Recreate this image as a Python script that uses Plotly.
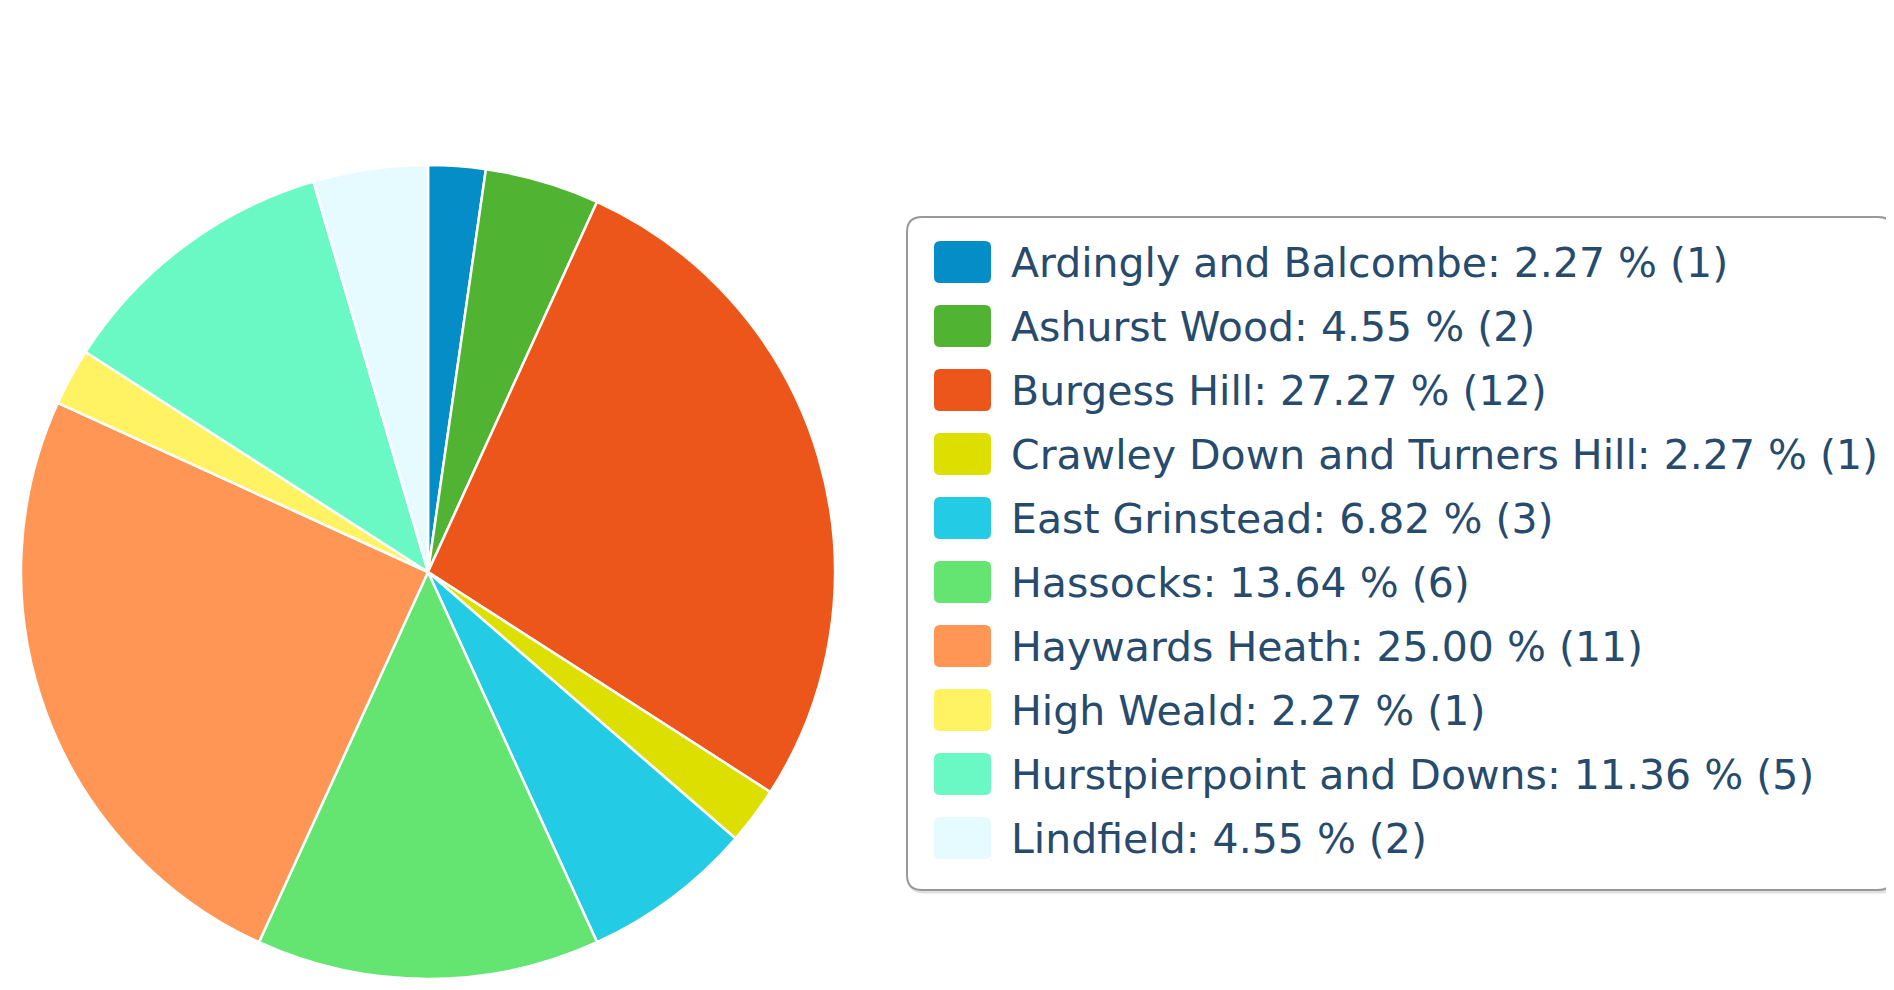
import plotly.graph_objects as go

W, H = 1894, 990
OFF = 8  # the page body adds an 8px margin

districts = [
    "Ardingly and Balcombe", "Ashurst Wood", "Burgess Hill",
    "Crawley Down and Turners Hill", "East Grinstead", "Hassocks",
    "Haywards Heath", "High Weald", "Hurstpierpoint and Downs", "Lindfield",
]
counts = [1, 2, 12, 1, 3, 6, 11, 1, 5, 2]
colors = [
    "#058dc7", "#50b432", "#ed561b", "#dddf00", "#24cbe5",
    "#64e572", "#ff9655", "#fff263", "#6af9c4", "#e6fbff",
]

total = sum(counts)
pct = [100 * c / total for c in counts]


def px_x(x):
    return (x - OFF) / W


def px_y(y):
    return 1 - (y - OFF) / H


def rounded_rect(x0, y0, x1, y1, r):
    # path in paper coords, corners given in pixels (top-left origin)
    X = px_x
    Y = px_y
    return (
        f"M{X(x0 + r)},{Y(y0)} L{X(x1 - r)},{Y(y0)} Q{X(x1)},{Y(y0)} {X(x1)},{Y(y0 + r)} "
        f"L{X(x1)},{Y(y1 - r)} Q{X(x1)},{Y(y1)} {X(x1 - r)},{Y(y1)} "
        f"L{X(x0 + r)},{Y(y1)} Q{X(x0)},{Y(y1)} {X(x0)},{Y(y1 - r)} "
        f"L{X(x0)},{Y(y0 + r)} Q{X(x0)},{Y(y0)} {X(x0 + r)},{Y(y0)} Z"
    )


fig = go.Figure(go.Pie(
    labels=districts,
    values=counts,
    sort=False,
    direction="clockwise",
    rotation=0,
    marker=dict(colors=colors, line=dict(color="white", width=2.5)),
    textinfo="none",
    hovertemplate="%{label}: %{percent}<extra></extra>",
    showlegend=False,
    domain=dict(x=[px_x(21), px_x(835)], y=[px_y(979), px_y(165)]),
))

shapes = []
annotations = []

# legend frame (with a faint shadow like the original)
shapes.append(dict(type="path", xref="paper", yref="paper",
                   path=rounded_rect(909, 219, 1895, 892, 15),
                   line=dict(color="rgba(0,0,0,0.12)", width=3)))
shapes.append(dict(type="path", xref="paper", yref="paper",
                   path=rounded_rect(907, 217, 1893, 890, 15),
                   line=dict(color="#999999", width=2), fillcolor="white"))

row0, step = 262, 64
for i, (name, p, c, col) in enumerate(zip(districts, pct, counts, colors)):
    cy = row0 + i * step
    shapes.append(dict(type="path", xref="paper", yref="paper",
                       path=rounded_rect(934, cy - 21, 991, cy + 21, 6),
                       line=dict(width=0), fillcolor=col))
    annotations.append(dict(
        x=px_x(1009), y=px_y(cy + 1), xref="paper", yref="paper",
        xanchor="left", yanchor="middle", showarrow=False,
        text=f"{name}: {p:.2f} % ({c})",
        font=dict(family="DejaVu Sans", size=41, color="#274b6d"),
    ))

fig.update_layout(
    width=W, height=H,
    margin=dict(l=0, r=0, t=0, b=0),
    paper_bgcolor="white",
    plot_bgcolor="white",
    shapes=shapes,
    annotations=annotations,
)

fig.write_html("out.html")
